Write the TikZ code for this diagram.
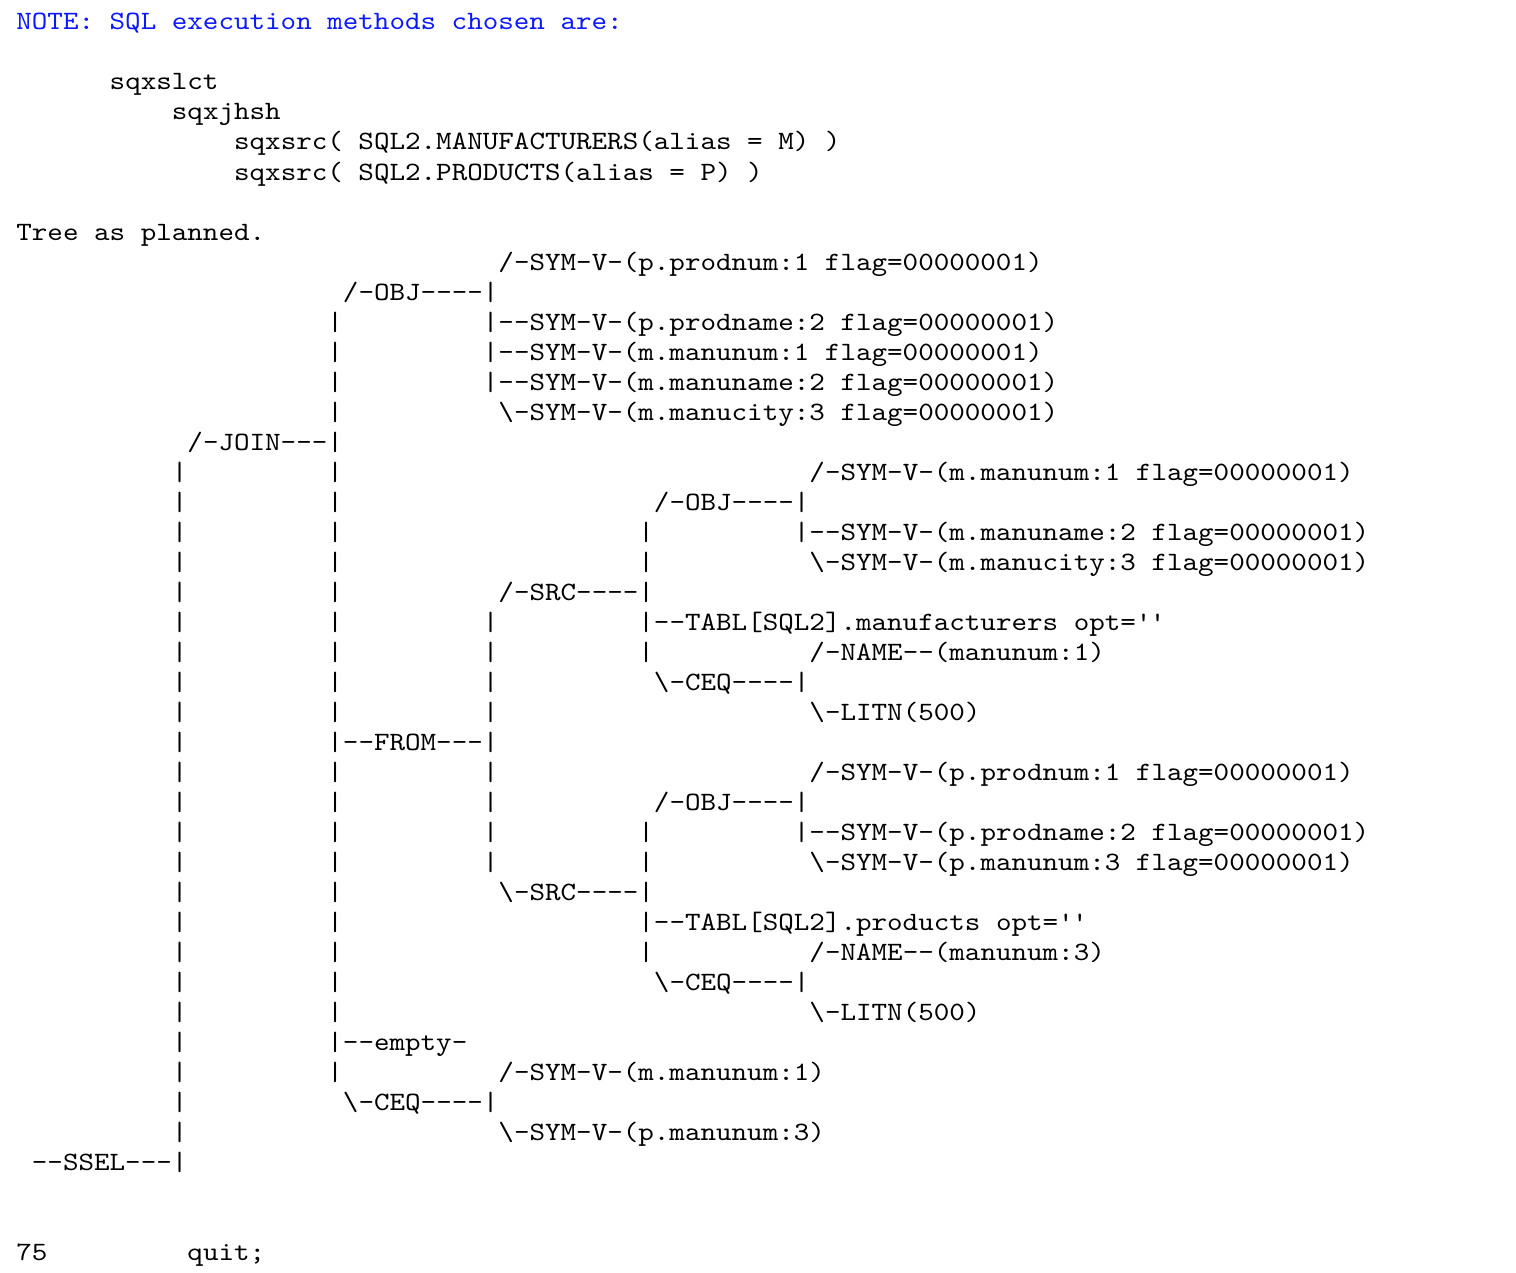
\documentclass[tikz,border=0pt]{standalone}
\usepackage{fontspec}
\setmonofont[FakeStretch=1.12]{lmmono10-regular.otf}
\definecolor{noteblue}{RGB}{12,24,250}
\newcommand{\bsl}{\textbackslash}
\newcommand{\squote}{\textquotesingle}

\begin{document}
\begin{tikzpicture}[x=7.775pt, y=-15pt,
    txt/.style={anchor=base west, inner sep=0pt, font=\ttfamily\fontsize{13.22}{15}\selectfont}]
  \useasboundingbox (-1.029,-1) rectangle (96.46,41.4);
  % log header
  \draw
    (0,0) node[txt, text=noteblue] (note){NOTE: SQL execution methods chosen are:}
    (6,2) node[txt] (sqxslct){sqxslct}
    (10,3) node[txt] (sqxjhsh){sqxjhsh}
    (14,4) node[txt] (sqxsrc-m){sqxsrc( SQL2.MANUFACTURERS(alias = M) )}
    (14,5) node[txt] (sqxsrc-p){sqxsrc( SQL2.PRODUCTS(alias = P) )}
    (0,7) node[txt] (tree){Tree as planned.};
  % tree rows
  \draw
    (31,8) node[txt] (obj1-a){/-SYM-V-(p.prodnum:1 flag=00000001)}
    (21,9) node[txt] (obj1){/-OBJ----|}
    (30,10) node[txt] (obj1-b){|--SYM-V-(p.prodname:2 flag=00000001)}
    (30,11) node[txt] (obj1-c){|--SYM-V-(m.manunum:1 flag=00000001)}
    (30,12) node[txt] (obj1-d){|--SYM-V-(m.manuname:2 flag=00000001)}
    (31,13) node[txt] (obj1-e){\bsl-SYM-V-(m.manucity:3 flag=00000001)}
    (11,14) node[txt] (join){/-JOIN---|}
    (51,15) node[txt] (obj2-a){/-SYM-V-(m.manunum:1 flag=00000001)}
    (41,16) node[txt] (obj2){/-OBJ----|}
    (50,17) node[txt] (obj2-b){|--SYM-V-(m.manuname:2 flag=00000001)}
    (51,18) node[txt] (obj2-c){\bsl-SYM-V-(m.manucity:3 flag=00000001)}
    (31,19) node[txt] (src1){/-SRC----|}
    (40,20) node[txt] (tabl1){|--TABL[SQL2].manufacturers opt=\squote\squote}
    (51,21) node[txt] (name1){/-NAME--(manunum:1)}
    (41,22) node[txt] (ceq1){\bsl-CEQ----|}
    (51,23) node[txt] (litn1){\bsl-LITN(500)}
    (20,24) node[txt] (from){|--FROM---|}
    (51,25) node[txt] (obj3-a){/-SYM-V-(p.prodnum:1 flag=00000001)}
    (41,26) node[txt] (obj3){/-OBJ----|}
    (50,27) node[txt] (obj3-b){|--SYM-V-(p.prodname:2 flag=00000001)}
    (51,28) node[txt] (obj3-c){\bsl-SYM-V-(p.manunum:3 flag=00000001)}
    (31,29) node[txt] (src2){\bsl-SRC----|}
    (40,30) node[txt] (tabl2){|--TABL[SQL2].products opt=\squote\squote}
    (51,31) node[txt] (name2){/-NAME--(manunum:3)}
    (41,32) node[txt] (ceq2){\bsl-CEQ----|}
    (51,33) node[txt] (litn2){\bsl-LITN(500)}
    (20,34) node[txt] (empty){|--empty-}
    (31,35) node[txt] (ceq3-a){/-SYM-V-(m.manunum:1)}
    (21,36) node[txt] (ceq3){\bsl-CEQ----|}
    (31,37) node[txt] (ceq3-b){\bsl-SYM-V-(p.manunum:3)}
    (1,38) node[txt] (ssel){--SSEL---|};
  % vertical bars
  \foreach \c/\rows in {10/{15,...,37}, 20/{10,...,13}, 20/{15,...,23},
      20/{25,...,33}, 20/{35}, 30/{20,...,23}, 30/{25,...,28},
      40/{17,18,21}, 40/{27,28,31}}
    \foreach \r in \rows
      \node[txt] (bar\c-\r) at (\c,\r) {|};
  \draw
    (0,41) node[txt] (line75){75}
    (11,41) node[txt] (quit){quit;};
\end{tikzpicture}
\end{document}
